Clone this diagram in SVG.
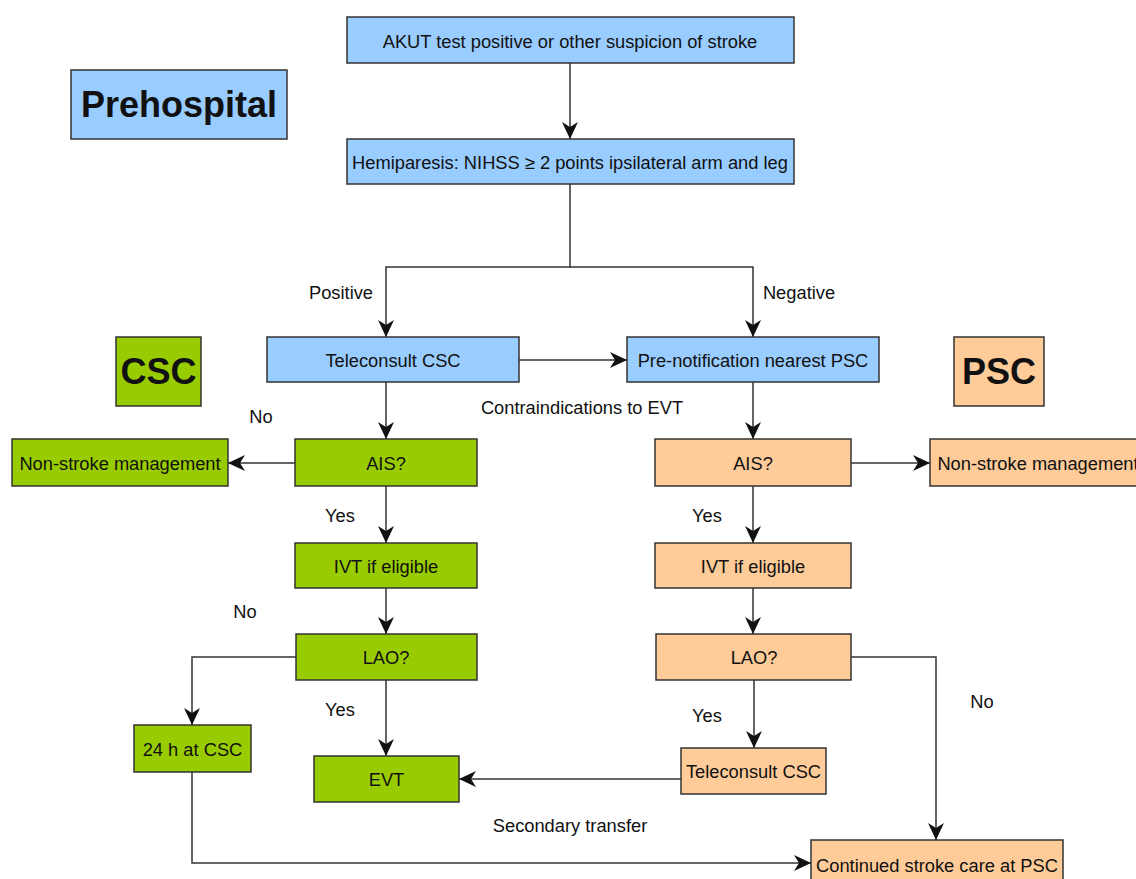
<svg xmlns="http://www.w3.org/2000/svg" width="1136" height="879" viewBox="0 0 1136 879">
  <style>
    text { font-family: "Liberation Sans", Arial, sans-serif; font-size: 18.3px; fill: #111; text-anchor: middle; }
    .title { font-size: 36px; font-weight: bold; }
    .box { stroke: #333; stroke-width: 1.5; }
    .blue { fill: #99ccff; }
    .green { fill: #99cc00; }
    .orange { fill: #ffcc99; }
    .edge { fill: none; stroke: #333; stroke-width: 1.5; }
  </style>
  <defs>
    <marker id="arrow" viewBox="0 0 17 16" refX="17" refY="8" markerWidth="17" markerHeight="16" markerUnits="userSpaceOnUse" orient="auto">
      <path d="M0,0 L17,8 L0,16 L5,8 z" fill="#111"/>
    </marker>
  </defs>
  <rect width="1136" height="879" fill="#fff"/>

  <!-- connectors -->
  <g id="connectors">
    <path class="edge" d="M570,63 V139" marker-end="url(#arrow)"/>
    <path class="edge" d="M570,184 V267 H386 V337" marker-end="url(#arrow)"/>
    <path class="edge" d="M570,267 H753 V337" marker-end="url(#arrow)"/>
    <path class="edge" d="M519,360 H627" marker-end="url(#arrow)"/>
    <!-- CSC branch -->
    <path class="edge" d="M386,382 V439" marker-end="url(#arrow)"/>
    <path class="edge" d="M295,463 H228" marker-end="url(#arrow)"/>
    <path class="edge" d="M386,486 V543" marker-end="url(#arrow)"/>
    <path class="edge" d="M386,588 V634" marker-end="url(#arrow)"/>
    <path class="edge" d="M386,680 V756" marker-end="url(#arrow)"/>
    <path class="edge" d="M296,657 H192 V725" marker-end="url(#arrow)"/>
    <path class="edge" d="M192,772 V863 H811" marker-end="url(#arrow)"/>
    <!-- PSC branch -->
    <path class="edge" d="M753,382 V439" marker-end="url(#arrow)"/>
    <path class="edge" d="M851,463 H930" marker-end="url(#arrow)"/>
    <path class="edge" d="M753,486 V543" marker-end="url(#arrow)"/>
    <path class="edge" d="M753,588 V634" marker-end="url(#arrow)"/>
    <path class="edge" d="M754,680 V748" marker-end="url(#arrow)"/>
    <path class="edge" d="M851,657 H936 V840" marker-end="url(#arrow)"/>
    <path class="edge" d="M681,779 H459" marker-end="url(#arrow)"/>
  </g>

  <!-- edge labels -->
  <g id="labels">
    <text x="341" y="299">Positive</text>
    <text x="799" y="299">Negative</text>
    <text x="582" y="414">Contraindications to EVT</text>
    <text x="261" y="423">No</text>
    <text x="340" y="522">Yes</text>
    <text x="707" y="522">Yes</text>
    <text x="245" y="618">No</text>
    <text x="340" y="716">Yes</text>
    <text x="707" y="722">Yes</text>
    <text x="982" y="708">No</text>
    <text x="570" y="832">Secondary transfer</text>
  </g>

  <!-- section headers -->
  <g id="prehospital"><rect class="box blue" x="71" y="70" width="216" height="69"/><text class="title" x="179" y="117">Prehospital</text></g>
  <g id="csc-header"><rect class="box green" x="116" y="337" width="85" height="69"/><text class="title" x="158.5" y="384">CSC</text></g>
  <g id="psc-header"><rect class="box orange" x="954" y="337" width="90" height="69"/><text class="title" x="999" y="384">PSC</text></g>

  <!-- prehospital nodes -->
  <g id="akut"><rect class="box blue" x="347" y="17" width="447" height="46"/><text x="570" y="48">AKUT test positive or other suspicion of stroke</text></g>
  <g id="hemiparesis"><rect class="box blue" x="347" y="139" width="447" height="45"/><text x="570" y="169">Hemiparesis: NIHSS ≥ 2 points ipsilateral arm and leg</text></g>
  <g id="teleconsult-csc"><rect class="box blue" x="267" y="337" width="252" height="45"/><text x="393" y="367">Teleconsult CSC</text></g>
  <g id="prenotification"><rect class="box blue" x="627" y="337" width="252" height="45"/><text x="753" y="367">Pre-notification nearest PSC</text></g>

  <!-- CSC nodes -->
  <g id="csc-ais"><rect class="box green" x="295" y="439" width="182" height="47"/><text x="386" y="470">AIS?</text></g>
  <g id="csc-nonstroke"><rect class="box green" x="12" y="439" width="216" height="47"/><text x="120" y="470">Non-stroke management</text></g>
  <g id="csc-ivt"><rect class="box green" x="295" y="543" width="182" height="45"/><text x="386" y="573">IVT if eligible</text></g>
  <g id="csc-lao"><rect class="box green" x="296" y="634" width="181" height="46"/><text x="386" y="664">LAO?</text></g>
  <g id="csc-24h"><rect class="box green" x="134" y="725" width="117" height="47"/><text x="192.5" y="756">24 h at CSC</text></g>
  <g id="csc-evt"><rect class="box green" x="314" y="756" width="145" height="46"/><text x="386.5" y="786">EVT</text></g>

  <!-- PSC nodes -->
  <g id="psc-ais"><rect class="box orange" x="655" y="439" width="196" height="47"/><text x="753" y="470">AIS?</text></g>
  <g id="psc-nonstroke"><rect class="box orange" x="930" y="439" width="216" height="47"/><text x="1038" y="470">Non-stroke management</text></g>
  <g id="psc-ivt"><rect class="box orange" x="655" y="543" width="196" height="45"/><text x="753" y="573">IVT if eligible</text></g>
  <g id="psc-lao"><rect class="box orange" x="656" y="634" width="195" height="46"/><text x="754" y="664">LAO?</text></g>
  <g id="psc-teleconsult"><rect class="box orange" x="681" y="748" width="145" height="46"/><text x="753.5" y="778">Teleconsult CSC</text></g>
  <g id="psc-continued"><rect class="box orange" x="811" y="840" width="252" height="56"/><text x="937" y="872">Continued stroke care at PSC</text></g>
</svg>
